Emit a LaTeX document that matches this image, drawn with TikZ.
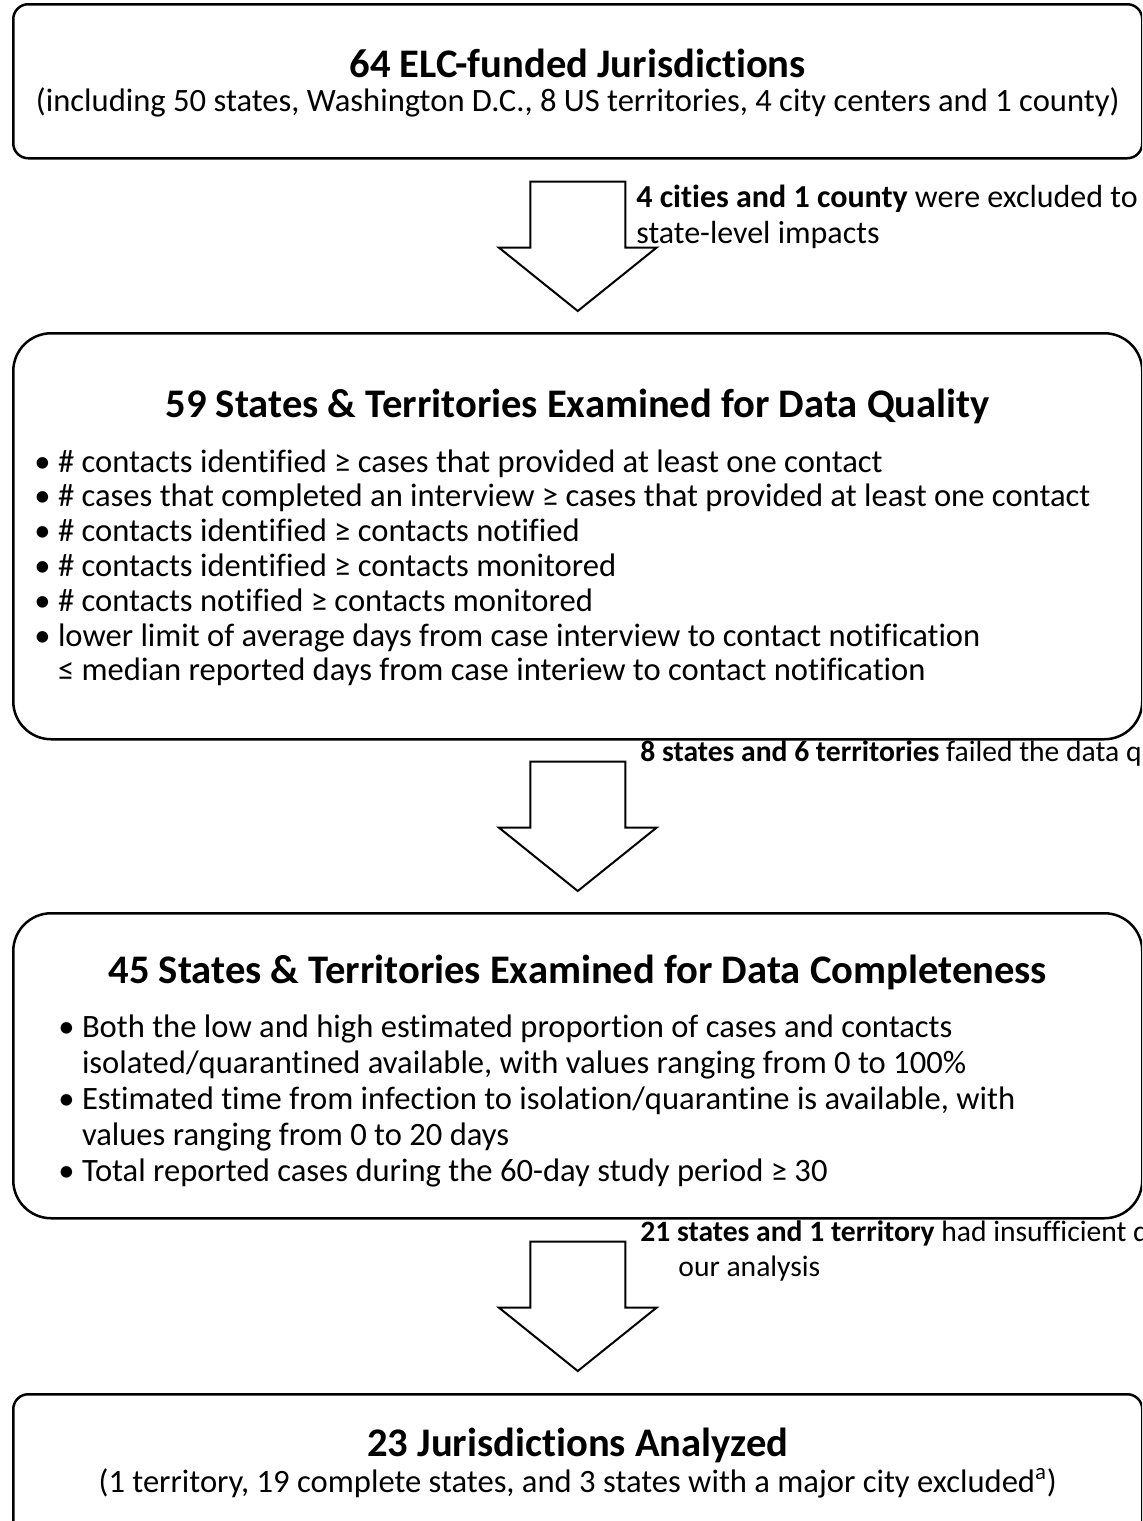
\documentclass[tikz,border=0pt]{standalone}
\usepackage{fontspec}
\setmainfont{Carlito}[Ligatures=CommonOff]
\usetikzlibrary{positioning,calc}

\begin{document}
\begin{tikzpicture}[
    x=0.5pt, y=-0.5pt,
    every node/.style={font=\fontsize{16.3}{19.5}\selectfont},
    stage/.style={draw, line width=1.25pt, inner sep=0pt, minimum width=564.5pt, anchor=north west},
    smallround/.style={stage, rounded corners=7.5pt},
    biground/.style={stage, rounded corners=19pt},
    heading/.style={font=\fontsize{20.3}{24}\selectfont\bfseries},
    subline/.style={font=\fontsize{16.3}{19.5}\selectfont},
    checklist/.style={align=left, anchor=north west, inner sep=0pt, font=\fontsize{16.3}{17.4}\selectfont},
    note/.style={align=left, anchor=north west, inner sep=0pt, font=\fontsize{14.8}{17.5}\selectfont},
    blockarrow/.style={draw, line width=1pt, fill=white}
]
\useasboundingbox (0,0) rectangle (1142,1521);
\fill[white] (0,0) rectangle (1142,1521);
\clip (0,0) rectangle (1142,1521);

% stage boxes
\node[smallround, minimum height=77pt] (elc) at (12,3) {};
\node[biground, minimum height=203pt] (quality) at (12,332) {};
\node[biground, minimum height=152.5pt] (complete) at (12,912) {};
\node[smallround, minimum height=73.5pt] (analyzed) at (12,1393) {};

% box texts
\node[heading] (elctitle) at ($(elc.north)+(0,60)$) {64 ELC-funded Jurisdictions};
\node[subline] (elcsub) at ($(elc.north)+(0,99)$) {(including 50 states, Washington D.C., 8 US territories, 4 city centers and 1 county)};

\node[heading] (qualtitle) at ($(quality.north)+(0,74)$) {59 States \& Territories Examined for Data Quality};
\node[checklist] (quallist) at (34,449) {%
  • \# contacts identified ≥ cases that provided at least one contact\\
  • \# cases that completed an interview ≥ cases that provided at least one contact\\
  • \# contacts identified ≥ contacts notified\\
  • \# contacts identified ≥ contacts monitored\\
  • \# contacts notified ≥ contacts monitored\\
  • lower limit of average days from case interview to contact notification\\
  \hphantom{• }≤ median reported days from case interiew to contact notification};

\node[heading] (comptitle) at ($(complete.north)+(0,60)$) {45 States \& Territories Examined for Data Completeness};
\node[checklist, font=\fontsize{16.3}{18.1}\selectfont] (complist) at (58,1014) {%
  • Both the low and high estimated proportion of cases and contacts\\
  \hphantom{• }isolated/quarantined available, with values ranging from 0 to 100\%\\
  • Estimated time from infection to isolation/quarantine is available, with\\
  \hphantom{• }values ranging from 0 to 20 days\\
  • Total reported cases during the 60-day study period ≥ 30};

\node[heading] (antitle) at ($(analyzed.north)+(0,52)$) {23 Jurisdictions Analyzed};
\node[subline] (ansub) at ($(analyzed.north)+(0,90)$) {(1 territory, 19 complete states, and 3 states with a major city excluded\textsuperscript{a})};

% exclusion notes
\node[note, font=\fontsize{16}{18}\selectfont] (note1) at (636,185) {\textbf{4 cities and 1 county} were excluded to\\state-level impacts};
\node[note] (note2) at (640,740) {\textbf{8 states and 6 territories} failed the data q};
\node[note] (note3) at (640,1220) {\textbf{21 states and 1 territory} had insufficient d\\\hspace*{19pt}our analysis};

% block arrows
\draw[blockarrow] ($(elc.south)+(-47.5,22)$) -- ($(elc.south)+(47.5,22)$) -- ($(elc.south)+(47.5,88)$)
  -- ($(elc.south)+(79,88)$) -- ($(quality.north)+(0,-21)$) -- ($(elc.south)+(-79,88)$)
  -- ($(elc.south)+(-47.5,88)$) -- cycle;
\draw[blockarrow] ($(quality.south)+(-47.5,21)$) -- ($(quality.south)+(47.5,21)$) -- ($(quality.south)+(47.5,87)$)
  -- ($(quality.south)+(79,87)$) -- ($(complete.north)+(0,-21)$) -- ($(quality.south)+(-79,87)$)
  -- ($(quality.south)+(-47.5,87)$) -- cycle;
\draw[blockarrow] ($(complete.south)+(-47.5,22)$) -- ($(complete.south)+(47.5,22)$) -- ($(complete.south)+(47.5,88)$)
  -- ($(complete.south)+(79,88)$) -- ($(analyzed.north)+(0,-22)$) -- ($(complete.south)+(-79,88)$)
  -- ($(complete.south)+(-47.5,88)$) -- cycle;

\end{tikzpicture}
\end{document}
